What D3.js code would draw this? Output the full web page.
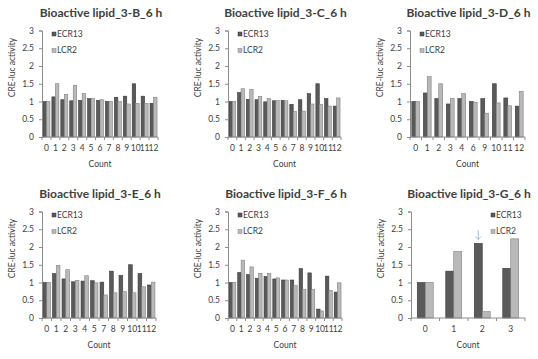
<!DOCTYPE html>
<html>
<head>
<meta charset="utf-8">
<script src="https://cdn.jsdelivr.net/npm/d3@7"></script>
<style>
  html, body { margin: 0; padding: 0; background: #fff; }
  svg { display: block; }
  text { font-family: Lato, "Open Sans", sans-serif; fill: #404040; }
</style>
</head>
<body>
<svg id="chart" width="538" height="359"></svg>
<script>
// ---------- data ----------
const seriesNames = ["ECR13", "LCR2"];
const yTicks = [0, 0.5, 1, 1.5, 2, 2.5, 3];

const titleB = "Bioactive lipid_3-B_6 h";
const catsB = ["0","1","2","3","4","5","6","7","8","9","10","11","12"];
const ecrB = [1.0, 1.13, 1.05, 1.02, 1.03, 1.08, 1.03, 1.0, 1.12, 1.15, 1.5, 1.15, 0.95];
const lcrB = [1.0, 1.5, 1.2, 1.45, 1.22, 1.08, 1.05, 1.0, 1.0, 0.93, 0.95, 0.95, 1.12];

const titleC = "Bioactive lipid_3-C_6 h";
const catsC = ["0","1","2","3","4","5","6","7","8","9","10","11","12"];
const ecrC = [1.0, 1.25, 1.06, 1.05, 0.99, 1.02, 1.03, 0.92, 1.05, 1.22, 1.5, 1.08, 0.87];
const lcrC = [1.0, 1.36, 1.34, 1.14, 1.08, 1.03, 1.02, 0.72, 0.73, 0.93, 0.92, 0.87, 1.1];

const titleD = "Bioactive lipid_3-D_6 h";
const catsD = ["0","1","2","3","4","6","9","10","11","12"];
const ecrD = [1.0, 1.24, 1.08, 0.93, 1.08, 1.0, 1.08, 1.5, 1.1, 0.87];
const lcrD = [1.0, 1.7, 1.5, 1.08, 1.22, 0.98, 0.67, 0.96, 0.88, 1.28];

const titleE = "Bioactive lipid_3-E_6 h";
const catsE = ["0","1","2","3","4","5","7","8","9","10","11","12"];
const ecrE = [1.0, 1.25, 1.1, 1.02, 1.04, 1.05, 1.01, 1.32, 1.2, 1.5, 1.25, 0.93];
const lcrE = [1.0, 1.48, 1.36, 1.06, 1.19, 0.99, 0.65, 0.71, 0.74, 0.71, 0.88, 1.01];

const titleF = "Bioactive lipid_3-F_6 h";
const catsF = ["0","1","2","3","4","5","6","7","8","9","10","11","12"];
const ecrF = [1.0, 1.28, 1.22, 1.12, 1.17, 1.1, 1.07, 1.07, 1.39, 1.27, 0.25, 1.18, 0.73];
const lcrF = [1.0, 1.63, 1.44, 1.26, 1.26, 1.13, 1.07, 0.91, 0.8, 0.8, 0.2, 0.78, 0.99];

const titleG = "Bioactive lipid_3-G_6 h";
const catsG = ["0","1","2","3"];
const ecrG = [1.0, 1.32, 2.1, 1.4];
const lcrG = [1.0, 1.87, 0.18, 2.23];
const arrowCatG = "2";

// ---------- layout ----------
const panels = [
  {title: titleB, cats: catsB, ecr: ecrB, lcr: lcrB, x0: 42,  x1: 158, yTop: 30.5,  yBot: 137, gap: 0.22, legend: "tl"},
  {title: titleC, cats: catsC, ecr: ecrC, lcr: lcrC, x0: 228, x1: 341, yTop: 30.5,  yBot: 137, gap: 0.22, legend: "tl"},
  {title: titleD, cats: catsD, ecr: ecrD, lcr: lcrD, x0: 410, x1: 525, yTop: 30.5,  yBot: 137, gap: 0.32, legend: "tl"},
  {title: titleE, cats: catsE, ecr: ecrE, lcr: lcrE, x0: 42,  x1: 156, yTop: 211.5, yBot: 318, gap: 0.22, legend: "tl"},
  {title: titleF, cats: catsF, ecr: ecrF, lcr: lcrF, x0: 228, x1: 342, yTop: 211.5, yBot: 318, gap: 0.22, legend: "tl"},
  {title: titleG, cats: catsG, ecr: ecrG, lcr: lcrG, x0: 411, x1: 525, yTop: 211.5, yBot: 318, gap: 0.44, legend: "tr", arrow: arrowCatG},
];

const fills = {ECR13: "#5a5a5a", LCR2: "#b9b9b9"};
const strokes = {ECR13: "#383838", LCR2: "#808080"};
const axisColor = "#8c8c8c";

const svg = d3.select("#chart");

panels.forEach(p => {
  const g = svg.append("g");
  const x = d3.scaleBand().domain(p.cats).range([p.x0, p.x1])
    .paddingInner(p.gap).paddingOuter(p.gap / 2);
  const xs = d3.scaleBand().domain(seriesNames).range([0, x.bandwidth()]);
  const y = d3.scaleLinear().domain([0, 3]).range([p.yBot, p.yTop]);

  // bars
  const rows = p.cats.map((c, i) => ({cat: c, vals: [
    {s: "ECR13", v: p.ecr[i]}, {s: "LCR2", v: p.lcr[i]}]}));
  const cg = g.selectAll("g.cat").data(rows).enter().append("g")
    .attr("transform", d => `translate(${x(d.cat)},0)`);
  cg.selectAll("rect").data(d => d.vals).enter().append("rect")
    .attr("x", d => xs(d.s))
    .attr("width", xs.bandwidth())
    .attr("y", d => y(d.v))
    .attr("height", d => y(0) - y(d.v))
    .attr("fill", d => fills[d.s])
    .attr("stroke", d => strokes[d.s])
    .attr("stroke-width", 0.6);

  // y axis
  const ya = d3.axisLeft(y).tickValues(yTicks).tickSize(3).tickPadding(5)
    .tickFormat(d => String(d));
  const yg = g.append("g").attr("transform", `translate(${p.x0},0)`).call(ya);
  yg.select(".domain").attr("stroke", axisColor);
  yg.selectAll(".tick line").attr("stroke", axisColor);
  yg.selectAll(".tick text").attr("font-size", 8.5).attr("fill", "#404040")
    .attr("font-family", "Lato, sans-serif");

  // x axis (ticks between categories)
  const xa = d3.axisBottom(x).tickSize(0).tickPadding(8);
  const xg = g.append("g").attr("transform", `translate(0,${p.yBot})`).call(xa);
  xg.select(".domain").attr("d", `M${p.x0},0H${p.x1}`).attr("stroke", axisColor);
  xg.selectAll(".tick text").attr("font-size", 8.5).attr("fill", "#404040")
    .attr("font-family", "Lato, sans-serif");
  const bounds = d3.range(p.cats.length + 1).map(i => p.x0 + i * x.step());
  g.selectAll("line.xt").data(bounds).enter().append("line")
    .attr("x1", d => d).attr("x2", d => d)
    .attr("y1", p.yBot).attr("y2", p.yBot + 3)
    .attr("stroke", axisColor);

  // title
  g.append("text")
    .attr("x", (p.x0 + p.x1) / 2 + 1)
    .attr("y", p.yTop - 14)
    .attr("text-anchor", "middle")
    .attr("font-weight", "bold")
    .attr("font-size", 12)
    .attr("fill", "#000")
    .text(p.title);

  // axis titles
  g.append("text")
    .attr("x", (p.x0 + p.x1) / 2)
    .attr("y", p.yBot + 29.5)
    .attr("text-anchor", "middle")
    .attr("font-size", 8.5)
    .text("Count");
  g.append("text")
    .attr("transform", `translate(${p.x0 - 27},${p.yTop + 37}) rotate(-90)`)
    .attr("text-anchor", "middle")
    .attr("font-size", 8.5)
    .text("CRE-luc activity");

  // legend
  const lx = p.legend === "tr" ? p.x1 - 34 : p.x0 + 10;
  seriesNames.forEach((s, i) => {
    const ly = p.yTop + 1.5 + i * 16.5;
    g.append("rect").attr("x", lx).attr("y", ly).attr("width", 4).attr("height", 4)
      .attr("fill", fills[s]).attr("stroke", strokes[s]).attr("stroke-width", 0.5);
    g.append("text").attr("x", lx + 5).attr("y", ly + 4.5)
      .attr("font-size", 8.5).text(s);
  });

  // arrow annotation
  if (p.arrow) {
    const idx = p.cats.indexOf(p.arrow);
    const ax = x(p.arrow) + xs("ECR13") + xs.bandwidth() / 2;
    const ay = y(p.ecr[idx]) - 4;
    const a = g.append("g").attr("stroke", "#8fb9e0").attr("stroke-width", 0.9).attr("fill", "none");
    a.append("line").attr("x1", ax).attr("x2", ax).attr("y1", ay - 9).attr("y2", ay);
    a.append("path").attr("d", `M${ax - 3},${ay - 3}L${ax},${ay}L${ax + 3},${ay - 3}`);
  }
});
</script>
</body>
</html>
